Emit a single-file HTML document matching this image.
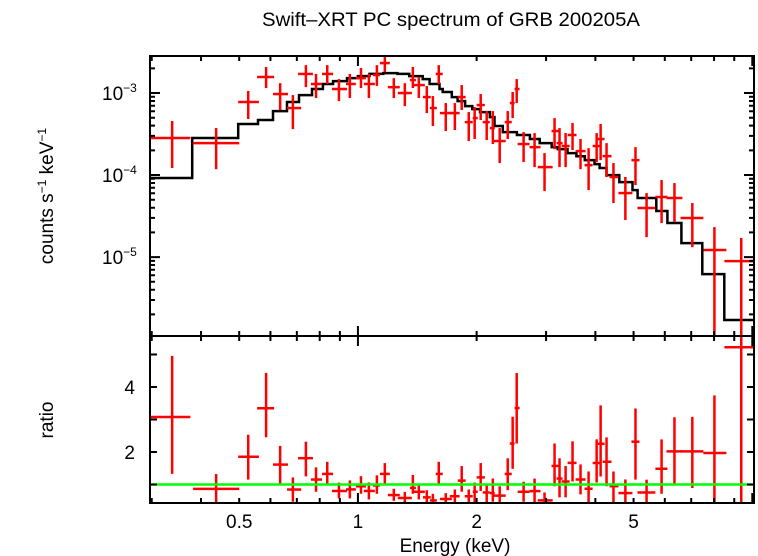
<!DOCTYPE html>
<html><head><meta charset="utf-8"><style>
body{margin:0;background:#fff;}
svg{display:block;font-family:"Liberation Sans",sans-serif;}
</style></head><body>
<svg id="chart" width="758" height="556" viewBox="0 0 758 556">
<rect x="0" y="0" width="758" height="556" fill="#fff"/>
<text x="451" y="26" font-size="19" text-anchor="middle" textLength="378" lengthAdjust="spacingAndGlyphs">Swift–XRT PC spectrum of GRB 200205A</text>
<text transform="translate(53,196) rotate(-90)" font-size="19" text-anchor="middle">counts s<tspan font-size="12" dy="-7">−1</tspan><tspan dy="7"> keV</tspan><tspan font-size="12" dy="-7">−1</tspan></text>
<text transform="translate(53,420) rotate(-90)" font-size="19" text-anchor="middle">ratio</text>
<text x="455" y="552" font-size="19" text-anchor="middle">Energy (keV)</text>
<defs>
<clipPath id="clipTop"><rect x="150" y="56" width="604" height="280"/></clipPath>
<clipPath id="clipBot"><rect x="150" y="336" width="604" height="167"/></clipPath>
</defs>
<g id="top-marks" clip-path="url(#clipTop)"></g>
<g id="bot-marks" clip-path="url(#clipBot)"></g>
<g id="axes"></g>
</svg>
<script>
// Model step bin edges (keV) and model values (counts/s/keV)
const modelEdges=[0.297,0.380,0.497,0.558,0.609,0.661,0.709,0.765,0.815,0.865,0.938,1.00,1.07,1.16,1.26,1.35,1.46,1.52,1.61,1.64,1.73,1.79,1.87,1.95,2.04,2.16,2.22,2.33,2.53,2.73,2.89,3.10,3.21,3.40,3.58,3.76,3.98,4.10,4.27,4.60,4.97,5.12,5.71,6.09,6.61,7.47,8.49,10.1];
const modelValues=[9.2e-5,2.83e-4,4.19e-4,4.69e-4,6.03e-4,7.77e-4,9.45e-4,1.12e-3,1.29e-3,1.40e-3,1.52e-3,1.61e-3,1.71e-3,1.75e-3,1.71e-3,1.61e-3,1.48e-3,1.29e-3,1.12e-3,1.03e-3,8.93e-4,7.98e-4,6.93e-4,6.38e-4,5.86e-4,5.09e-4,3.96e-4,3.34e-4,3.08e-4,2.75e-4,2.45e-4,2.19e-4,2.07e-4,1.85e-4,1.70e-4,1.52e-4,1.36e-4,1.22e-4,1.00e-4,8.2e-5,6.56e-5,5.25e-5,3.64e-5,2.60e-5,1.48e-5,6.2e-6,1.71e-6];
// Data points
const energy=[0.338,0.437,0.527,0.585,0.635,0.684,0.738,0.783,0.836,0.895,0.954,1.018,1.066,1.117,1.170,1.233,1.315,1.378,1.427,1.495,1.549,1.603,1.670,1.761,1.833,1.910,1.977,2.048,2.121,2.198,2.288,2.398,2.468,2.527,2.631,2.805,2.973,3.152,3.245,3.362,3.501,3.668,3.845,4.030,4.125,4.270,4.446,4.766,5.056,5.394,5.888,6.348,7.046,8.016,9.376];
const energyLo=[0.297,0.382,0.497,0.555,0.609,0.661,0.705,0.760,0.811,0.859,0.933,0.988,1.035,1.091,1.137,1.191,1.262,1.354,1.386,1.462,1.522,1.575,1.614,1.710,1.791,1.866,1.955,2.000,2.072,2.159,2.209,2.356,2.427,2.496,2.541,2.724,2.857,3.097,3.190,3.284,3.402,3.563,3.755,3.937,4.054,4.172,4.345,4.577,4.938,5.116,5.678,6.058,6.576,7.516,8.497];
const energyHi=[0.376,0.500,0.561,0.613,0.665,0.718,0.769,0.811,0.865,0.938,0.988,1.048,1.104,1.137,1.205,1.277,1.370,1.403,1.478,1.530,1.585,1.641,1.730,1.811,1.876,1.955,2.013,2.098,2.159,2.223,2.370,2.455,2.496,2.570,2.724,2.904,3.117,3.227,3.303,3.442,3.584,3.777,3.937,4.101,4.221,4.395,4.577,4.966,5.175,5.678,6.093,6.649,7.516,8.594,10.23];
const flux=[2.83e-4,2.45e-4,7.77e-4,1.57e-3,9.72e-4,6.56e-4,1.71e-3,1.29e-3,1.71e-3,1.12e-3,1.29e-3,1.52e-3,1.29e-3,1.66e-3,2.32e-3,1.18e-3,1.0e-3,1.44e-3,1.25e-3,8.93e-4,6.56e-4,1.71e-3,5.70e-4,5.70e-4,8.93e-4,4.42e-4,4.95e-4,7.14e-4,4.42e-4,3.74e-4,2.60e-4,4.42e-4,7.55e-4,1.12e-3,2.39e-4,2.19e-4,1.25e-4,3.44e-4,2.45e-4,2.26e-4,3.08e-4,1.96e-4,1.32e-4,2.26e-4,2.75e-4,1.70e-4,9.47e-5,6.03e-5,1.52e-4,3.96e-5,5.40e-5,5.25e-5,2.99e-5,1.22e-5,8.93e-6];
const fluxHi=[4.56e-4,3.74e-4,1.06e-3,2.08e-3,1.32e-3,9.45e-4,2.19e-3,1.71e-3,2.19e-3,1.48e-3,1.71e-3,2.02e-3,1.71e-3,2.19e-3,2.90e-3,1.52e-3,1.32e-3,2.08e-3,1.57e-3,1.22e-3,9.19e-4,2.19e-3,7.55e-4,7.55e-4,1.25e-3,5.86e-4,6.75e-4,9.72e-4,6.03e-4,6.03e-4,3.74e-4,6.03e-4,1.03e-3,1.48e-3,3.34e-4,3.25e-4,1.85e-4,4.95e-4,3.74e-4,3.25e-4,4.31e-4,2.75e-4,2.13e-4,3.25e-4,4.19e-4,2.45e-4,1.40e-4,9.47e-5,2.19e-4,6.03e-5,8.69e-5,7.98e-5,4.56e-5,2.32e-5,1.71e-5];
const fluxLo=[1.22e-4,1.18e-4,4.82e-4,1.15e-3,6.21e-4,3.64e-4,1.18e-3,8.69e-4,1.29e-3,7.98e-4,8.69e-4,1.15e-3,8.69e-4,1.22e-3,1.80e-3,8.69e-4,6.93e-4,1.15e-3,8.69e-4,5.70e-4,3.96e-4,1.29e-3,3.44e-4,3.54e-4,6.21e-4,2.60e-4,2.75e-4,4.69e-4,2.67e-4,2.39e-4,1.40e-4,2.75e-4,4.95e-4,7.55e-4,1.44e-4,1.25e-4,6.38e-5,2.07e-4,1.25e-4,1.25e-4,2.02e-4,1.18e-4,6.56e-5,1.44e-4,1.52e-4,9.47e-5,4.56e-5,2.83e-5,7.55e-5,1.75e-5,2.60e-5,2.67e-5,1.32e-5,1e-7,1e-7];
// Tick labels
const xTickLabels=[0.5,1,2,5];
const yTopMajor=[1e-3,1e-4,1e-5];
const yTopLabels=["−3","−4","−5"];
const yBotTicks=[1,2,3,4,5];
const yBotLabels=[2,4];

const NS="http://www.w3.org/2000/svg";
const L=150,R=754,T=56,M=336,B=503;
const xMin=0.297,xMax=10.1;
const fMin=1.09e-6,fMax=2.83e-3;
const rMin=0.43,rMax=5.57;
function xs(e){return L+(Math.log10(e)-Math.log10(xMin))/(Math.log10(xMax)-Math.log10(xMin))*(R-L);}
function ys(f){return M-(Math.log10(f)-Math.log10(fMin))/(Math.log10(fMax)-Math.log10(fMin))*(M-T);}
function yr(r){return B-(r-rMin)/(rMax-rMin)*(B-M);}
function mk(tag,attrs,parent){const el=document.createElementNS(NS,tag);for(const k in attrs)el.setAttribute(k,attrs[k]);parent.appendChild(el);return el;}
function modelAt(e){for(let i=0;i<modelValues.length;i++){if(e>=modelEdges[i]&&e<modelEdges[i+1])return modelValues[i];}return modelValues[modelValues.length-1];}

const gTop=document.getElementById('top-marks');
const gBot=document.getElementById('bot-marks');
const gAx=document.getElementById('axes');

let d="";
for(let i=0;i<modelValues.length;i++){
  const x0=xs(modelEdges[i]),x1=xs(modelEdges[i+1]),y=ys(modelValues[i]);
  d+=(i===0?"M":"L")+x0.toFixed(1)+","+y.toFixed(1)+"L"+x1.toFixed(1)+","+y.toFixed(1);
}
const model=mk('path',{d:d,fill:'none',stroke:'#000','stroke-width':2.5},gTop);



for(let i=0;i<energy.length;i++){
  const g=mk('g',{stroke:'#f00','stroke-width':2.5},gTop);
  
  
  mk('line',{x1:xs(energyLo[i]),x2:xs(energyHi[i]),y1:ys(flux[i]),y2:ys(flux[i])},g);
  mk('line',{x1:xs(energy[i]),x2:xs(energy[i]),y1:ys(fluxLo[i]),y2:ys(fluxHi[i])},g);
  const m=modelAt(energy[i]);
  const g2=mk('g',{stroke:'#f00','stroke-width':2.5},gBot);
  
  
  mk('line',{x1:xs(energyLo[i]),x2:xs(energyHi[i]),y1:yr(flux[i]/m),y2:yr(flux[i]/m)},g2);
  mk('line',{x1:xs(energy[i]),x2:xs(energy[i]),y1:yr(fluxLo[i]/m),y2:yr(fluxHi[i]/m)},g2);
}
const unity=mk('line',{x1:L,x2:R,y1:yr(1),y2:yr(1),stroke:'#0f0','stroke-width':2.5},gBot);



const f1=mk('rect',{x:L,y:T,width:R-L,height:M-T,fill:'none',stroke:'#000','stroke-width':2},gAx);


const f2=mk('rect',{x:L,y:M,width:R-L,height:B-M,fill:'none',stroke:'#000','stroke-width':2},gAx);



const xt=[];
for(let dec of [0.1,1]){for(let k=1;k<=9;k++){const v=k*dec;if(v>=xMin&&v<=xMax)xt.push(v);}}
xt.push(10);
let td="";
for(const v of xt){
  const x=xs(v); if(x<L||x>R)continue;
  const len=(v===1||v===10)?10:5;
  td+=`M${x},${T}v${len}`;
  td+=`M${x},${M}v${-len}M${x},${M}v${len}`;
  td+=`M${x},${B}v${-len}`;
}
for(let e=-6;e<=-3;e++){for(let k=1;k<=9;k++){const v=k*Math.pow(10,e);if(v<fMin||v>fMax)continue;const y=ys(v);const len=k===1?10:5;td+=`M${L},${y}h${len}M${R},${y}h${-len}`;}}
for(const v of yBotTicks){const y=yr(v);td+=`M${L},${y}h7M${R},${y}h-7`;}
const ticks=mk('path',{d:td,stroke:'#000','stroke-width':2,fill:'none'},gAx);



for(const v of xTickLabels){
  const t=mk('text',{x:xs(v),y:528,'font-size':19,'text-anchor':'middle'},gAx);
  
  
  t.textContent=String(v);
}
yTopMajor.forEach((v,i)=>{
  const t=mk('text',{x:102,y:ys(v)+7,'font-size':19,'text-anchor':'start'},gAx);
  
  
  t.textContent="10";
  const s=mk('tspan',{'font-size':12,dy:-8},t);
  s.textContent=yTopLabels[i];
});
for(const v of yBotLabels){
  const t=mk('text',{x:135,y:yr(v)+7,'font-size':19,'text-anchor':'end'},gAx);
  
  
  t.textContent=String(v);
}
</script>
</body></html>
